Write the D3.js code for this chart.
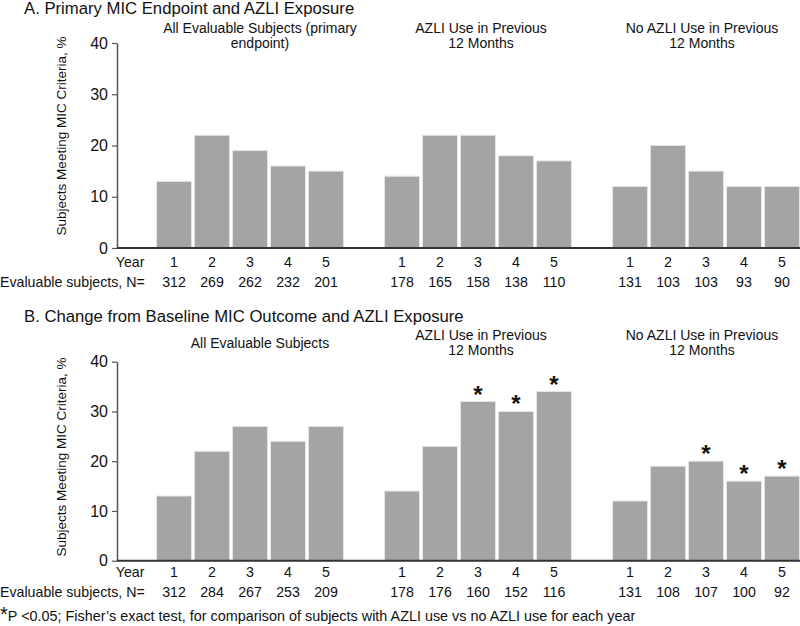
<!DOCTYPE html>
<html>
<head>
<meta charset="utf-8">
<script src="https://cdn.jsdelivr.net/npm/d3@7"></script>
<style>
  html, body { margin: 0; padding: 0; background: #fff; }
  svg { display: block; font-family: Arial, "Liberation Sans", sans-serif; }
</style>
</head>
<body>
<svg id="chart" width="800" height="626"></svg>
<script>
// ---- Data ----
const years = ["1", "2", "3", "4", "5"];
const groupNames = ["all", "azli", "noazli"];
const subtitlesA = [["All Evaluable Subjects (primary", "endpoint)"], ["AZLI Use in Previous", "12 Months"], ["No AZLI Use in Previous", "12 Months"]];
const subtitlesB = [["All Evaluable Subjects"], ["AZLI Use in Previous", "12 Months"], ["No AZLI Use in Previous", "12 Months"]];
const valuesA = [[13, 22, 19, 16, 15], [14, 22, 22, 18, 17], [12, 20, 15, 12, 12]];
const nA = [[312, 269, 262, 232, 201], [178, 165, 158, 138, 110], [131, 103, 103, 93, 90]];
const valuesB = [[13, 22, 27, 24, 27], [14, 23, 32, 30, 34], [12, 19, 20, 16, 17]];
const nB = [[312, 284, 267, 253, 209], [178, 176, 160, 152, 116], [131, 108, 107, 100, 92]];
const sigB = [[false, false, false, false, false], [false, false, true, true, true], [false, false, true, true, true]];
const yTicks = [0, 10, 20, 30, 40];
const titleA = "A. Primary MIC Endpoint and AZLI Exposure";
const titleB = "B. Change from Baseline MIC Outcome and AZLI Exposure";
const yLabel = "Subjects Meeting MIC Criteria, %";
const footnote = "P <0.05; Fisher\u2019s exact test, for comparison of subjects with AZLI use vs no AZLI use for each year";

// ---- Layout ----
const svg = d3.select("#chart");
const axisX = 117;
const barFill = "#a4a4a4";
const barStroke = "#e4e4e4";
const textColor = "#111";

// slot categories: Year, g0 years, gap, g1 years, gap, g2 years
const slots = ["Year"];
groupNames.forEach((g, gi) => {
  years.forEach(y => slots.push(g + "-" + y));
  if (gi < groupNames.length - 1) slots.push("gap" + gi);
});
const x = d3.scaleBand().domain(slots).range([axisX, axisX + 38 * slots.length])
  .paddingInner(0.08).paddingOuter(0.04);

const subOffsets = [10, 3, -4];

function panel(cfg) {
  const g = svg.append("g");
  const y = d3.scaleLinear().domain([0, 40]).range([cfg.y0, cfg.y40]);

  g.append("text").attr("x", 24).attr("y", cfg.titleY)
    .attr("font-size", 16.7).attr("fill", textColor).text(cfg.title);

  // y axis
  const ax = g.append("g").attr("transform", `translate(${axisX},0)`)
    .call(d3.axisLeft(y).tickValues(yTicks).tickSize(5).tickSizeOuter(0).tickPadding(4));
  ax.select(".domain").attr("stroke", "#555").attr("stroke-width", 1.5);
  ax.selectAll(".tick line").attr("stroke", "#555").attr("stroke-width", 1.2);
  ax.selectAll(".tick text").attr("font-size", 16).attr("fill", textColor)
    .attr("font-family", "Arial, 'Liberation Sans', sans-serif");

  g.append("text")
    .attr("transform", `translate(${cfg.labelX},${cfg.labelY}) rotate(-90)`)
    .attr("text-anchor", "middle").attr("font-size", 13.5).attr("fill", textColor)
    .text(yLabel);

  // bars
  cfg.values.forEach((vals, gi) => {
    vals.forEach((v, i) => {
      const key = groupNames[gi] + "-" + years[i];
      g.append("rect")
        .attr("x", x(key)).attr("width", x.bandwidth())
        .attr("y", y(v)).attr("height", y(0) - y(v))
        .attr("fill", barFill).attr("stroke", barStroke).attr("stroke-width", 1);
      if (cfg.sig && cfg.sig[gi][i]) {
        g.append("text").attr("x", x(key) + x.bandwidth() / 2).attr("y", y(v) + 1)
          .attr("text-anchor", "middle").attr("font-size", 24).attr("font-weight", "bold")
          .attr("fill", textColor).text("*");
      }
      g.append("text").attr("x", x(key) + x.bandwidth() / 2).attr("y", cfg.yearY)
        .attr("text-anchor", "middle").attr("font-size", 14.2).attr("fill", textColor).text(years[i]);
      g.append("text").attr("x", x(key) + x.bandwidth() / 2).attr("y", cfg.nY)
        .attr("text-anchor", "middle").attr("font-size", 14.2).attr("fill", textColor).text(cfg.n[gi][i]);
    });
    // subtitles
    const c = (x(groupNames[gi] + "-1") + x(groupNames[gi] + "-5") + x.bandwidth()) / 2 + subOffsets[gi];
    const lines = cfg.subs[gi];
    const sy = cfg.subY[gi];
    lines.forEach((l, li) => {
      g.append("text").attr("x", c).attr("y", sy + li * 15)
        .attr("text-anchor", "middle").attr("font-size", 14).attr("fill", textColor).text(l);
    });
  });

  // baseline
  g.append("line").attr("x1", axisX).attr("x2", 800).attr("y1", y(0)).attr("y2", y(0))
    .attr("stroke", "#333").attr("stroke-width", 2);

  g.append("text").attr("x", x("Year") + x.bandwidth() - 9).attr("y", cfg.yearY)
    .attr("text-anchor", "end").attr("font-size", 14.2).attr("fill", textColor).text("Year");
  g.append("text").attr("x", 0).attr("y", cfg.nY)
    .attr("font-size", 14.2).attr("fill", textColor).text("Evaluable subjects, N=");
}

panel({ title: titleA, titleY: 14, y0: 248, y40: 43, values: valuesA, n: nA, subs: subtitlesA,
  subY: [33, 33, 33], yearY: 267, nY: 287, labelX: 66, labelY: 136 });
panel({ title: titleB, titleY: 322, y0: 560.7, y40: 361.7, values: valuesB, n: nB, subs: subtitlesB,
  subY: [348, 340, 340], sig: sigB, yearY: 576.5, nY: 597, labelX: 66, labelY: 457 });

// footnote (one text element: large star + note, flowing)
const fn = svg.append("text").attr("x", 0).attr("y", 621).attr("fill", textColor);
fn.append("tspan").attr("font-size", 20).text("*");
fn.append("tspan").attr("font-size", 14.4).text(footnote);
</script>
</body>
</html>
